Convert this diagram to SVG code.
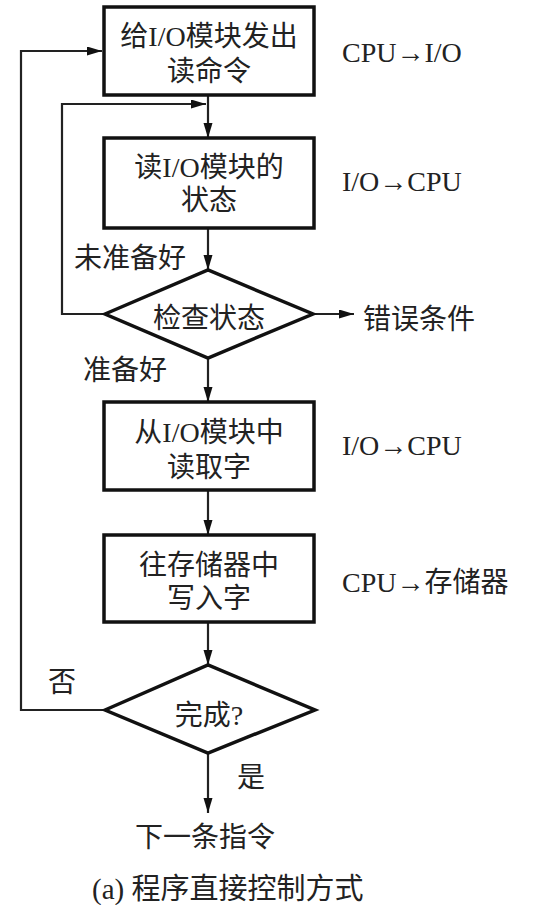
<svg xmlns="http://www.w3.org/2000/svg" width="552" height="905" viewBox="0 0 552 905">
<style>
.t{font-family:"Liberation Serif","Noto Sans CJK SC",serif;font-size:28px;fill:#222;}
.c{text-anchor:middle;}
.box{fill:#fff;stroke:#111;stroke-width:3.5;}
.ln{fill:none;stroke:#222;stroke-width:2.2;}
</style>
<defs>
<marker id="ah" markerUnits="userSpaceOnUse" markerWidth="16" markerHeight="10" refX="15" refY="4.5" orient="auto">
<path d="M0,0 L15,4.5 L0,9 Z" fill="#111"/>
</marker>
</defs>
<rect width="552" height="905" fill="#fff"/>
<g id="connectors">
<path class="ln" d="M208,95 V138" marker-end="url(#ah)"/>
<path class="ln" d="M208,228 V270" marker-end="url(#ah)"/>
<path class="ln" d="M208,358 V402" marker-end="url(#ah)"/>
<path class="ln" d="M208,490 V535" marker-end="url(#ah)"/>
<path class="ln" d="M208,622 V665" marker-end="url(#ah)"/>
<path class="ln" d="M208,753 V813" marker-end="url(#ah)"/>
<path class="ln" d="M313,314 H354" marker-end="url(#ah)"/>
<path class="ln" d="M105,314 H62 V104 H206" marker-end="url(#ah)"/>
<path class="ln" d="M105,710 H21 V51 H102" marker-end="url(#ah)"/>
</g>
<g id="n1">
<rect class="box" x="104" y="7" width="210" height="88"/>
<text class="t c" x="209" y="46">给I/O模块发出</text>
<text class="t c" x="209" y="81">读命令</text>
</g>
<g id="n2">
<rect class="box" x="104" y="138" width="210" height="90"/>
<text class="t c" x="209" y="177">读I/O模块的</text>
<text class="t c" x="209" y="210">状态</text>
</g>
<g id="n3">
<polygon class="box" points="105,314 208,270 313,314 208,358"/>
<text class="t c" x="209" y="328">检查状态</text>
</g>
<g id="n4">
<rect class="box" x="104" y="402" width="210" height="88"/>
<text class="t c" x="209" y="442">从I/O模块中</text>
<text class="t c" x="209" y="477">读取字</text>
</g>
<g id="n5">
<rect class="box" x="104" y="535" width="210" height="87"/>
<text class="t c" x="209" y="575">往存储器中</text>
<text class="t c" x="209" y="608">写入字</text>
</g>
<g id="n6">
<polygon class="box" points="105,710 208,665 315,710 208,753"/>
<text class="t c" x="209" y="725">完成?</text>
</g>
<g id="labels">
<text class="t" x="342" y="62">CPU→I/O</text>
<text class="t" x="342" y="191">I/O→CPU</text>
<text class="t" x="342" y="455">I/O→CPU</text>
<text class="t" x="342" y="592">CPU→存储器</text>
<text class="t" x="74" y="268">未准备好</text>
<text class="t" x="83" y="380">准备好</text>
<text class="t" x="363" y="329">错误条件</text>
<text class="t" x="48" y="692">否</text>
<text class="t" x="237" y="787">是</text>
<text class="t c" x="205" y="847">下一条指令</text>
<text class="t" x="92" y="899" style="font-size:29px">(a) 程序直接控制方式</text>
</g>
</svg>
